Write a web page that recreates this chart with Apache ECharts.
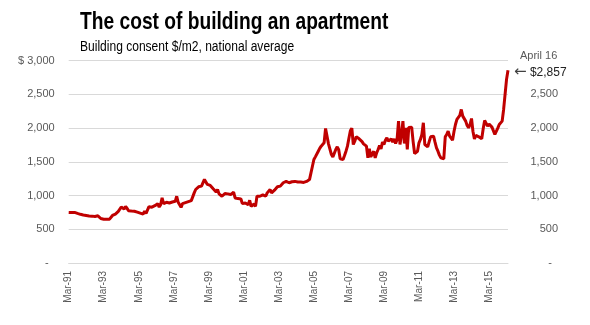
<!DOCTYPE html>
<html>
<head>
<meta charset="utf-8">
<script src="https://cdn.jsdelivr.net/npm/echarts@6/dist/echarts.min.js"></script>
<style>
html,body{margin:0;padding:0;background:#fff;}
#chart{width:590px;height:325px;}
</style>
</head>
<body>
<div id="chart"></div>
<script>
// Monthly series, Mar-91 .. Apr-16 (each row = Mar..Feb of following year)
var startYear = 1991, startMonth = 2; // March
var monthNames = ['Jan','Feb','Mar','Apr','May','Jun','Jul','Aug','Sep','Oct','Nov','Dec'];
var y1991 = [750, 745, 748, 752, 750, 740, 735, 725, 722, 718, 712, 708];
var y1992 = [705, 700, 698, 695, 695, 692, 690, 698, 700, 690, 660, 655];
var y1993 = [650, 648, 650, 652, 650, 660, 705, 715, 725, 740, 765, 790];
var y1994 = [830, 815, 800, 840, 810, 775, 765, 770, 775, 768, 760, 755];
var y1995 = [748, 740, 735, 725, 770, 735, 725, 835, 830, 828, 835, 850];
var y1996 = [870, 880, 830, 865, 965, 880, 890, 900, 895, 890, 900, 905];
var y1997 = [910, 915, 990, 900, 880, 825, 880, 885, 895, 900, 910, 915];
var y1998 = [925, 930, 1040, 1090, 1115, 1130, 1140, 1140, 1145, 1240, 1215, 1165];
var y1999 = [1160, 1150, 1130, 1100, 1090, 1055, 1090, 1025, 1010, 990, 1015, 1030];
var y2000 = [1030, 1025, 1020, 1015, 990, 1050, 965, 940, 955, 980, 950, 880];
var y2001 = [880, 890, 915, 865, 930, 840, 860, 875, 840, 990, 985, 990];
var y2002 = [1000, 1010, 1015, 990, 1040, 1020, 1090, 1040, 1030, 1080, 1100, 1130];
var y2003 = [1135, 1140, 1160, 1190, 1200, 1210, 1225, 1190, 1215, 1205, 1200, 1210];
var y2004 = [1190, 1200, 1213, 1200, 1188, 1195, 1200, 1210, 1225, 1237, 1337, 1435];
var y2005 = [1535, 1574, 1594, 1658, 1700, 1733, 1750, 1782, 1995, 1980, 1767, 1757];
var y2006 = [1609, 1574, 1559, 1683, 1723, 1680, 1545, 1535, 1535, 1594, 1658, 1733];
var y2007 = [1850, 1960, 2000, 1757, 1807, 1871, 1891, 1841, 1841, 1800, 1767, 1757];
var y2008 = [1733, 1559, 1693, 1574, 1620, 1658, 1559, 1634, 1683, 1743, 1693, 1792];
var y2009 = [1757, 1820, 1856, 1807, 1822, 1841, 1792, 1841, 1772, 1832, 2104, 1757];
var y2010 = [1900, 2104, 1772, 2005, 1683, 2010, 2005, 2015, 1800, 1624, 1634, 1658];
var y2011 = [1782, 1832, 1906, 2079, 1757, 1743, 1723, 1800, 1871, 1891, 1881, 1792];
var y2012 = [1708, 1658, 1600, 1559, 1535, 1545, 1871, 1906, 1955, 1881, 1856, 1822];
var y2013 = [1950, 2054, 2129, 2153, 2188, 2277, 2178, 2203, 2104, 2039, 2005, 2054];
var y2014 = [2143, 1950, 1841, 1891, 1891, 1871, 1856, 1841, 1990, 2114, 2089, 2030];
var y2015 = [2060, 2089, 2015, 1990, 1906, 1891, 2000, 2054, 2054, 2104, 2277, 2500];
var y2016 = [2723, 2857];

var yTicks = [0, 500, 1000, 1500, 2000, 2500, 3000];
var titleText = 'The cost of building an apartment';
var subtitleText = 'Building consent $/m2, national average';
var annotationDate = 'April 16';

var values = [].concat(y1991, y1992, y1993, y1994, y1995, y1996, y1997, y1998, y1999,
  y2000, y2001, y2002, y2003, y2004, y2005, y2006, y2007, y2008, y2009, y2010,
  y2011, y2012, y2013, y2014, y2015, y2016);

var categories = values.map(function (v, i) {
  var m = startMonth + i;
  var yr = startYear + Math.floor(m / 12);
  return monthNames[m % 12] + '-' + String(yr % 100).padStart(2, '0');
});

function fmt(v) {
  if (v === 0) return '-  ';
  return v.toLocaleString('en-US');
}

var lastIdx = values.length - 1;
var lastVal = values[lastIdx];
var labelColor = '#595959';
var gridColor = '#D9D9D9';
var font = 'Liberation Sans, Arial, sans-serif';

var chart = echarts.init(document.getElementById('chart'), null, {renderer: 'canvas'});
chart.setOption({
  animation: false,
  backgroundColor: '#fff',
  graphic: [{
    type: 'text', x: 80, y: 10, scaleX: 0.8,
    style: {text: titleText, font: 'bold 24px "Liberation Sans", Arial, sans-serif', fill: '#000', verticalAlign: 'top'}
  }, {
    type: 'text', x: 80, y: 40, scaleX: 0.86,
    style: {text: subtitleText, font: '14px "Liberation Sans", Arial, sans-serif', fill: '#000', verticalAlign: 'top'}
  }],
  grid: {left: 68.7, right: 82, top: 60.7, bottom: 62, containLabel: false},
  xAxis: {
    type: 'category',
    data: categories,
    boundaryGap: false,
    axisTick: {show: false},
    axisLine: {show: true, lineStyle: {color: gridColor, width: 1}},
    axisLabel: {interval: 23, rotate: 90, margin: 8, color: labelColor, fontSize: 10, fontFamily: font},
    splitLine: {show: false}
  },
  yAxis: [{
    type: 'value', min: 0, max: 3000, interval: 500,
    axisLine: {show: false}, axisTick: {show: false},
    splitLine: {show: true, lineStyle: {color: gridColor, width: 1}},
    axisLabel: {margin: 14, color: labelColor, fontSize: 11, fontFamily: font,
      formatter: function (v) { return v === 3000 ? '$ 3,000' : fmt(v); }}
  }, {
    type: 'value', min: 0, max: 3000, interval: 500, position: 'right',
    axisLine: {show: false}, axisTick: {show: false}, splitLine: {show: false},
    axisLabel: {margin: 50, align: 'right', color: labelColor, fontSize: 11, fontFamily: font,
      formatter: function (v) { return v === 3000 ? '' : fmt(v); }}
  }],
  series: [{
    type: 'line',
    data: values,
    symbol: 'none',
    lineStyle: {color: '#C00000', width: 3},
    itemStyle: {color: '#C00000'},
    markPoint: {
      symbol: 'circle', symbolSize: 0,
      data: [{coord: [lastIdx, lastVal], value: lastVal}],
      label: {
        show: true, position: 'right', distance: 6, offset: [0, -5],
        formatter: function (p) { return '{a|' + annotationDate + '}\n{b|\u2190}{c| $' + p.value.toLocaleString('en-US') + '}'; },
        rich: {
          a: {fontSize: 11, color: labelColor, fontFamily: font, padding: [0, 0, 2, 6], lineHeight: 14},
          b: {fontSize: 15, color: '#404040', fontFamily: 'DejaVu Sans, sans-serif', lineHeight: 16},
          c: {fontSize: 12, color: '#222', fontFamily: font, lineHeight: 16}
        }
      }
    }
  }]
});
</script>
</body>
</html>
